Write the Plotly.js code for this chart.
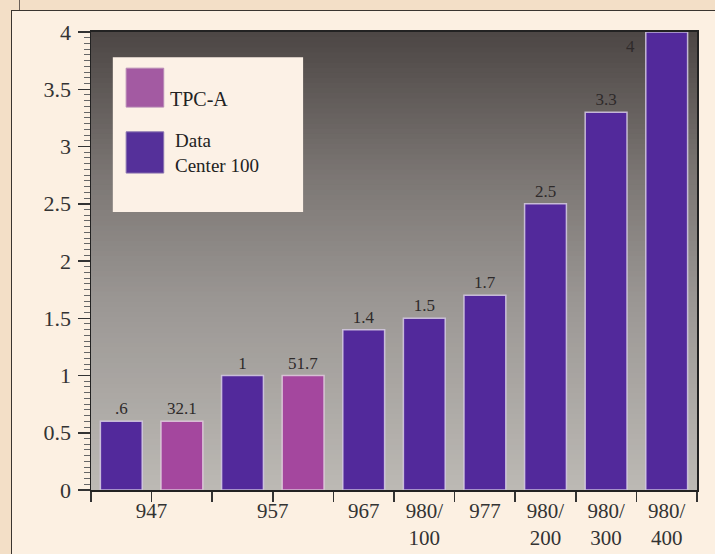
<!DOCTYPE html>
<html>
<head>
<meta charset="utf-8">
<script src="https://cdn.plot.ly/plotly-3.0.1.min.js"></script>
<style>
  html, body { margin:0; padding:0; width:715px; height:554px; overflow:hidden; background:#f3dfc7; }
  #frame { position:absolute; left:11px; top:10px; width:720px; height:560px; background:#fcf0e2;
           border-left:1.5px solid #3a3530; border-top:1.5px solid #3a3530; }
  #nick { position:absolute; left:19px; top:0px; width:1px; height:10px; background:#6a6058; }
  #chart { position:absolute; left:0; top:0; width:715px; height:554px; }
</style>
</head>
<body>
<div id="frame"></div>
<div id="nick"></div>
<div id="chart"></div>
<script>
// ---- data ----
const slotIndex = [0,1,2,3,4,5,6,7,8,9];
const dcName = "Data<br>Center 100";
const tpcName = "TPC-A";
const dcSlots  = [0, 2, 4, 5, 6, 7, 8, 9];
const dcValues = [0.6, 1.0, 1.4, 1.5, 1.7, 2.5, 3.3, 4.0];
const dcLabels = [".6", "1", "1.4", "1.5", "1.7", "2.5", "3.3", "4"];
const tpcSlots  = [1, 3];
const tpcValues = [0.6, 1.0];
const tpcLabels = ["32.1", "51.7"];
const groupCenters = [0.5, 2.5, 4, 5, 6, 7, 8, 9];
const groupLabels = ["947", "957", "967", "980/<br>100", "977", "980/<br>200", "980/<br>300", "980/<br>400"];
const yTicks = [0, 0.5, 1, 1.5, 2, 2.5, 3, 3.5, 4];

// ---- styles ----
const serif = "Liberation Serif, Times New Roman, serif";
const purple = "#52299b";
const pink = "#a4479e";
const barWidth = 0.69;
const lastIdx = dcValues.length - 1;

const boundaries = [slotIndex[0] - 0.5].concat(slotIndex.map(i => i + 0.5));
const dcText = dcLabels.map((t, i) => i === lastIdx ? "" : t);

const traces = [
  {
    type: "bar", name: dcName, x: dcSlots, y: dcValues, width: barWidth,
    text: dcText, textposition: "outside", cliponaxis: false, constraintext: "none",
    textfont: { family: serif, size: 17, color: "#2e2a2a" },
    marker: { color: purple, line: { color: "rgba(215,205,228,0.85)", width: 1.5 } },
    showlegend: false, hoverinfo: "x+y"
  },
  {
    type: "bar", name: tpcName, x: tpcSlots, y: tpcValues, width: barWidth,
    text: tpcLabels, textposition: "outside", cliponaxis: false, constraintext: "none",
    textfont: { family: serif, size: 17, color: "#2e2a2a" },
    marker: { color: pink, line: { color: "rgba(225,205,222,0.85)", width: 1.5 } },
    showlegend: false, hoverinfo: "x+y"
  },
  { type: "scatter", x: [], y: [], xaxis: "x2", yaxis: "y", showlegend: false, hoverinfo: "skip" }
];

// gradient background stripes
function hex(c){ return [parseInt(c.slice(1,3),16), parseInt(c.slice(3,5),16), parseInt(c.slice(5,7),16)]; }
const stops = [[0, "#bcb9b4"], [0.4, "#9c9895"], [0.68, "#7c7774"], [1, "#4c4644"]];
function colAt(t){
  for (let k = 0; k < stops.length - 1; k++) {
    const a = stops[k], b = stops[k+1];
    if (t >= a[0] && t <= b[0]) {
      const f = (t - a[0]) / (b[0] - a[0]);
      const ca = hex(a[1]), cb = hex(b[1]);
      return "rgb(" + ca.map((v, j) => Math.round(v + (cb[j] - v) * f)).join(",") + ")";
    }
  }
  return stops[stops.length-1][1];
}
const shapes = [];
const N = 90;
for (let k = 0; k < N; k++) {
  shapes.push({ type: "rect", xref: "paper", yref: "paper", x0: 0, x1: 1,
    y0: k / N, y1: (k + 1) / N + 0.002, fillcolor: colAt((k + 0.5) / N),
    line: { width: 0 }, layer: "below" });
}
// custom legend
shapes.push({ type: "rect", xref: "paper", yref: "paper", x0: 0.036, x1: 0.35, y0: 0.607, y1: 0.945,
  fillcolor: "#fcf1e6", line: { width: 0 }, layer: "above" });
shapes.push({ type: "rect", xref: "paper", yref: "paper", x0: 0.058, x1: 0.12, y0: 0.836, y1: 0.921,
  fillcolor: "#a35aa2", line: { color: "#b88ab5", width: 1 }, layer: "above" });
shapes.push({ type: "rect", xref: "paper", yref: "paper", x0: 0.058, x1: 0.12, y0: 0.692, y1: 0.782,
  fillcolor: "#55309a", line: { color: "#8a74b0", width: 1 }, layer: "above" });

const annotations = [
  { xref: "paper", yref: "paper", x: 0.127, y: 0.854, xanchor: "left", yanchor: "middle",
    text: tpcName, showarrow: false, align: "left",
    font: { family: serif, size: 20, color: "#222" } },
  { xref: "paper", yref: "paper", x: 0.135, y: 0.736, xanchor: "left", yanchor: "middle",
    text: dcName, showarrow: false, align: "left",
    font: { family: serif, size: 19, color: "#222" } },
  { xref: "x", yref: "y", x: dcSlots[lastIdx], y: dcValues[lastIdx], xshift: -36, yshift: -14,
    text: dcLabels[lastIdx], showarrow: false,
    font: { family: serif, size: 17, color: "#2e2a2a" } }
];

const layout = {
  width: 715, height: 554,
  margin: { l: 91, r: 18, t: 32, b: 64, pad: 0 },
  paper_bgcolor: "rgba(0,0,0,0)",
  plot_bgcolor: "rgba(0,0,0,0)",
  barmode: "overlay",
  showlegend: false,
  font: { family: serif, color: "#333" },
  xaxis: {
    range: [slotIndex[0] - 0.5, slotIndex[slotIndex.length-1] + 0.5],
    tickvals: boundaries, ticktext: boundaries.map(() => ""),
    ticks: "outside", ticklen: 10, tickwidth: 1.5, tickcolor: "#333",
    showline: true, linecolor: "#222", linewidth: 2, mirror: true,
    showgrid: false, zeroline: false, fixedrange: true
  },
  xaxis2: {
    overlaying: "x", anchor: "y", side: "bottom",
    range: [slotIndex[0] - 0.5, slotIndex[slotIndex.length-1] + 0.5],
    tickvals: groupCenters, ticktext: groupLabels,
    ticks: "", ticklabelstandoff: 6,
    tickfont: { family: serif, size: 21, color: "#333" },
    showline: false, showgrid: false, zeroline: false, fixedrange: true
  },
  yaxis: {
    range: [0, 4], tickvals: yTicks,
    ticks: "outside", ticklen: 12, tickwidth: 1.5, tickcolor: "#333",
    tickfont: { family: serif, size: 22, color: "#333" },
    ticklabelstandoff: 2,
    minor: { dtick: 0.05, ticks: "outside", ticklen: 6, tickwidth: 1, tickcolor: "#666", showgrid: false },
    showline: true, linecolor: "#222", linewidth: 1.5, mirror: true,
    showgrid: false, zeroline: false, fixedrange: true
  },
  shapes: shapes,
  annotations: annotations
};

Plotly.newPlot("chart", traces, layout, { displayModeBar: false, staticPlot: true });
</script>
</body>
</html>
